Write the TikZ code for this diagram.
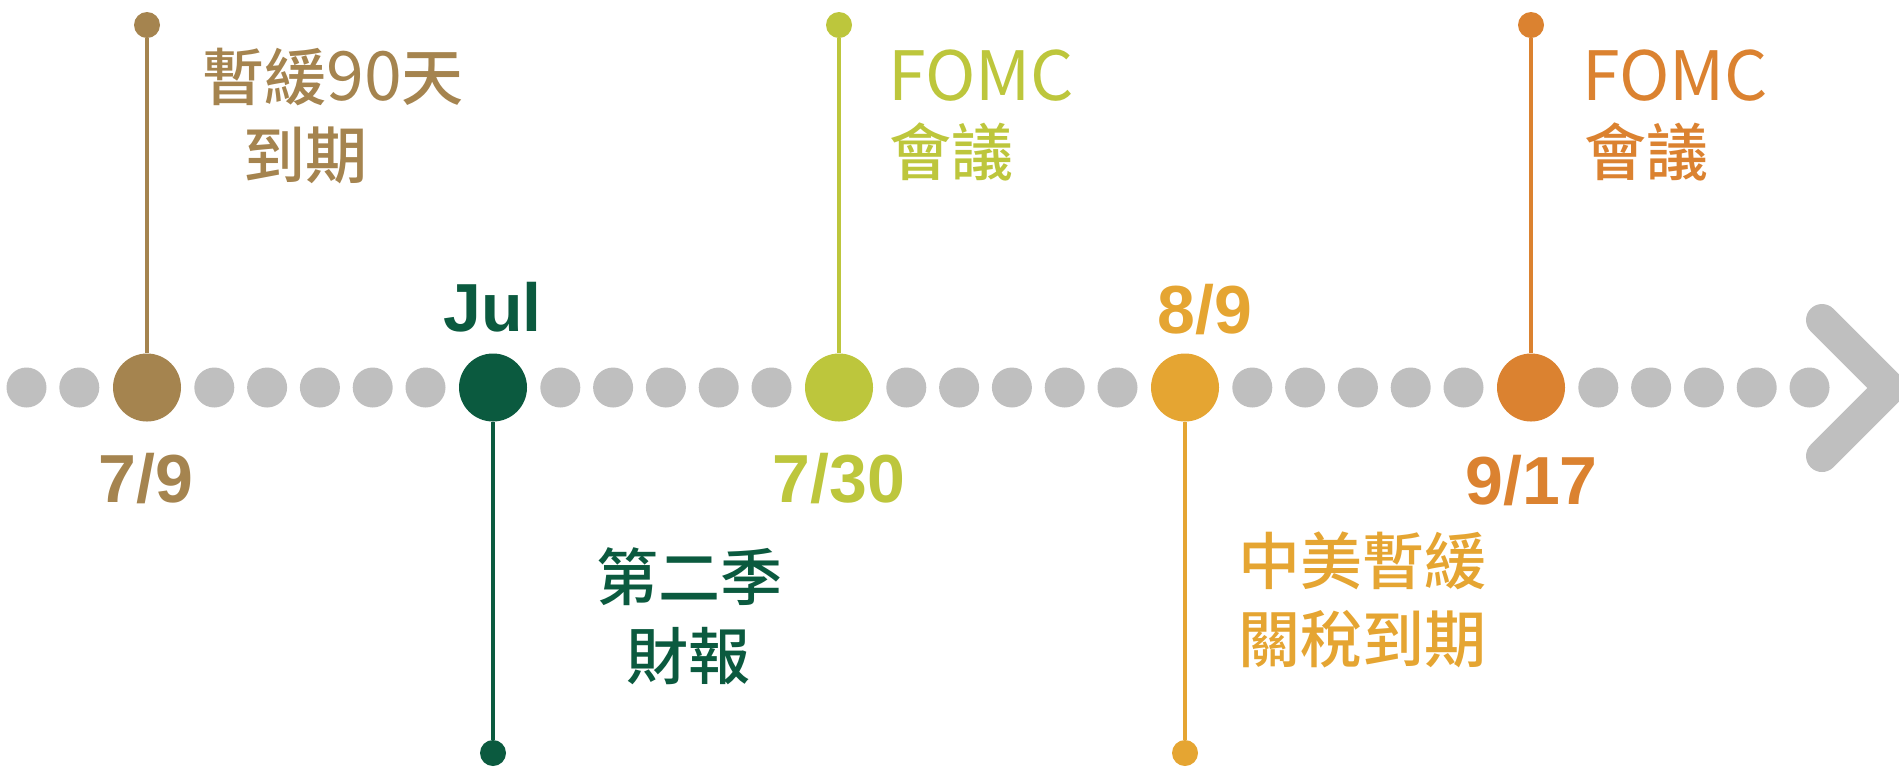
\documentclass[tikz,border=0pt]{standalone}
\usepackage{fontspec}
\newfontfamily\cjk{Noto Sans CJK TC Medium}
\newfontfamily\cjkl{Noto Sans CJK TC}
\newfontfamily\numfont{Liberation Sans}
\definecolor{dotgray}{HTML}{BFBFBF}
\definecolor{cbrown}{HTML}{A5844F}
\definecolor{cgreen}{HTML}{0B5A3F}
\definecolor{clime}{HTML}{BDC63C}
\definecolor{cyell}{HTML}{E5A532}
\definecolor{corange}{HTML}{DB8230}
\tikzset{
  gdot/.style={circle, fill=dotgray, minimum size=20pt, inner sep=0pt},
  bigdot/.style={circle, minimum size=34pt, inner sep=0pt},
  smalldot/.style={circle, minimum size=13pt, inner sep=0pt},
  stem/.style={line width=2pt},
  lbl/.style={font=\cjk\fontsize{31}{38}\selectfont, inner sep=0pt},
  lat/.style={font=\cjkl\fontsize{34}{40}\selectfont, inner sep=0pt},
  num/.style={font=\numfont\bfseries\fontsize{34}{40}\selectfont, inner sep=0pt, anchor=base},
}
\begin{document}
\begin{tikzpicture}[x=0.5pt, y=-0.5pt]
\useasboundingbox (0,0) rectangle (1899,768);
% gray dots
\node[gdot] (ga) at (26.5,387.5) {};
\node[gdot] (gb) at (79.3,387.5) {};
\foreach \i in {0,...,4}{
  \foreach \k in {0,...,4}{
    \node[gdot] (g\i\k) at ({147+346*\i+67.3+52.8*\k},387.5) {};
  }
}
% chevron
\coordinate (ch1) at (1822,320);
\coordinate (ch2) at (1890,388);
\coordinate (ch3) at (1822,456);
\draw[dotgray, line width=16pt, line cap=round, line join=round] (ch1) -- (ch2) -- (ch3);
% big dots
\node[bigdot, fill=cbrown] (d79) at (147,387.5) {};
\node[bigdot, fill=cgreen] (djul) at (493,387.5) {};
\node[bigdot, fill=clime] (d730) at (839,387.5) {};
\node[bigdot, fill=cyell] (d89) at (1185,387.5) {};
\node[bigdot, fill=corange] (d917) at (1531,387.5) {};
% small end dots
\node[smalldot, fill=cbrown] (t79) at (147,25) {};
\node[smalldot, fill=cgreen] (tjul) at (493,753) {};
\node[smalldot, fill=clime] (t730) at (839,25) {};
\node[smalldot, fill=cyell] (t89) at (1185,753) {};
\node[smalldot, fill=corange] (t917) at (1531,25) {};
% stems
\draw[stem, cbrown] (t79) -- (d79);
\draw[stem, cgreen] (djul) -- (tjul);
\draw[stem, clime] (t730) -- (d730);
\draw[stem, cyell] (d89) -- (t89);
\draw[stem, corange] (t917) -- (d917);
% date labels
\node[num, text=cbrown] (n79) at (146,502) {7/9};
\node[num, text=cgreen] (njul) at (492.5,331) {Jul};
\node[num, text=clime] (n730) at (839,502) {7/30};
\node[num, text=cyell] (n89) at (1205,333) {8/9};
\node[num, text=corange] (n917) at (1531.5,504) {9/17};
% texts
\node[lbl, text=cbrown, anchor=base west] (a1) at (202,100) {暫緩{\cjkl\fontsize{34}{40}\selectfont 90}天};
\node[lbl, text=cbrown, anchor=base west] (a2) at (243,178.5) {到期};
\node[lat, text=clime, anchor=base west] (b1) at (888,100) {FOMC};
\node[lbl, text=clime, anchor=base west] (b2) at (889,175.5) {會議};
\node[lat, text=corange, anchor=base west] (c1) at (1582,100) {FOMC};
\node[lbl, text=corange, anchor=base west] (c2) at (1584,175.5) {會議};
\node[lbl, text=cgreen, anchor=base] (e1) at (689,600.5) {第二季};
\node[lbl, text=cgreen, anchor=base] (e2) at (688,679.5) {財報};
\node[lbl, text=cyell, anchor=base west] (f1) at (1238,584.5) {中美暫緩};
\node[lbl, text=cyell, anchor=base west] (f2) at (1238,662.5) {關稅到期};
\end{tikzpicture}
\end{document}
